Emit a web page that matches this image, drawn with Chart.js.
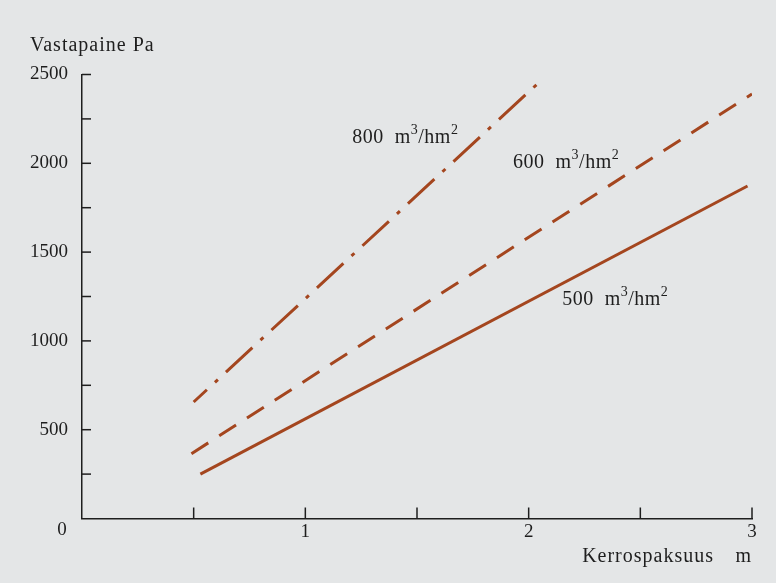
<!DOCTYPE html>
<html>
<head>
<meta charset="utf-8">
<script src="https://cdn.jsdelivr.net/npm/chart.js@4.4.1/dist/chart.umd.min.js"></script>
<style>
  html, body { margin: 0; padding: 0; background: #e4e6e7; }
  #c { display: block; }
</style>
</head>
<body>
<canvas id="c" width="776" height="583"></canvas>
<script>
// ---- data ----
const seriesNames = ['500', '600', '800'];          // m3/hm2
const thickness500 = [0.53, 2.98];                  // m
const pressure500  = [250, 1872];                   // Pa
const thickness600 = [0.49, 3.0];
const pressure600  = [365, 2390];
const thickness800 = [0.50, 2.05];
const pressure800  = [656, 2460];
const yLabelValues = [500, 1000, 1500, 2000, 2500];
const xLabelValues = [1, 2, 3];
const yTitle = 'Vastapaine Pa';
const xTitle = 'Kerrospaksuus';
const xUnit = 'm';

const LINE = '#a4461f';
const INK = '#1e1e1e';
const FONT = '"Liberation Serif", "DejaVu Serif", serif';

function pts(xs, ys) { return xs.map((v, i) => ({ x: v, y: ys[i] })); }

function richText(ctx, parts, x, y) {
  let cx = x;
  parts.forEach(p => {
    ctx.font = (p.sup ? '14px ' : '20px ') + FONT;
    ctx.fillText(p.t, cx, p.sup ? y - 8 : y);
    cx += ctx.measureText(p.t).width;
  });
}
function unitParts(n) {
  return [{ t: n + '  m' }, { t: '3', sup: true }, { t: '/hm' }, { t: '2', sup: true }];
}

const annotate = {
  id: 'annotate',
  afterDraw(chart) {
    const { ctx, scales: { x, y } } = chart;
    ctx.save();
    // inward tick marks
    ctx.strokeStyle = INK;
    ctx.lineWidth = 1.5;
    y.ticks.forEach(t => {
      if (t.value === 0) return;
      const py = y.getPixelForValue(t.value);
      ctx.beginPath(); ctx.moveTo(x.left, py); ctx.lineTo(x.left + 9, py); ctx.stroke();
    });
    x.ticks.forEach(t => {
      if (t.value === 0) return;
      const px = x.getPixelForValue(t.value);
      ctx.beginPath(); ctx.moveTo(px, y.bottom); ctx.lineTo(px, y.bottom - 11); ctx.stroke();
    });
    ctx.fillStyle = INK;
    ctx.textBaseline = 'middle';
    ctx.font = '19px ' + FONT;
    // shared origin label
    ctx.textAlign = 'center';
    ctx.fillText('0', x.left - 20, y.bottom + 12);
    // axis titles
    ctx.font = '20px ' + FONT;
    ctx.letterSpacing = '1px';
    ctx.textAlign = 'left';
    ctx.fillText(yTitle, x.left - 52, y.top - 29);
    ctx.textAlign = 'right';
    ctx.fillText(xUnit, x.right, y.bottom + 38);
    ctx.fillText(xTitle, x.right - 38, y.bottom + 38);
    // series labels
    ctx.textAlign = 'left';
    ctx.letterSpacing = '0.5px';
    richText(ctx, unitParts(seriesNames[2]), x.getPixelForValue(1.21), y.getPixelForValue(2142));
    richText(ctx, unitParts(seriesNames[1]), x.getPixelForValue(1.93), y.getPixelForValue(2002));
    richText(ctx, unitParts(seriesNames[0]), x.getPixelForValue(2.15), y.getPixelForValue(1230));
    ctx.restore();
  }
};

new Chart(document.getElementById('c'), {
  type: 'line',
  data: {
    datasets: [
      { label: seriesNames[0], data: pts(thickness500, pressure500), borderColor: LINE, borderWidth: 3, borderCapStyle: 'butt', pointRadius: 0 },
      { label: seriesNames[1], data: pts(thickness600, pressure600), borderColor: LINE, borderWidth: 3, borderCapStyle: 'butt', borderDash: [20, 13], pointRadius: 0 },
      { label: seriesNames[2], data: pts(thickness800, pressure800), borderColor: LINE, borderWidth: 3, borderCapStyle: 'butt', borderDash: [36, 11, 4, 11], borderDashOffset: 18, pointRadius: 0 }
    ]
  },
  options: {
    responsive: false,
    animation: false,
    devicePixelRatio: 1,
    layout: { padding: { top: 74.5, right: 24, left: 0, bottom: 0 } },
    plugins: { legend: { display: false }, tooltip: { enabled: false } },
    scales: {
      x: {
        type: 'linear', min: 0, max: 3, offset: false,
        grid: { display: false, drawTicks: false },
        border: { display: true, color: INK, width: 1.5 },
        ticks: {
          stepSize: 0.5, padding: 2, color: INK, maxRotation: 0, autoSkip: false,
          font: { family: FONT, size: 19 },
          callback: v => xLabelValues.includes(v) ? String(v) : ''
        },
        afterFit: s => { s.height = 64.5; }
      },
      y: {
        type: 'linear', min: 0, max: 2500,
        grid: { display: false, drawTicks: false },
        border: { display: true, color: INK, width: 1.5 },
        ticks: {
          stepSize: 250, padding: 14, color: INK, autoSkip: false,
          font: { family: FONT, size: 19 },
          callback: v => yLabelValues.includes(v) ? String(v) : ''
        },
        afterFit: s => { s.width = 82; }
      }
    }
  },
  plugins: [annotate]
});
</script>
</body>
</html>
